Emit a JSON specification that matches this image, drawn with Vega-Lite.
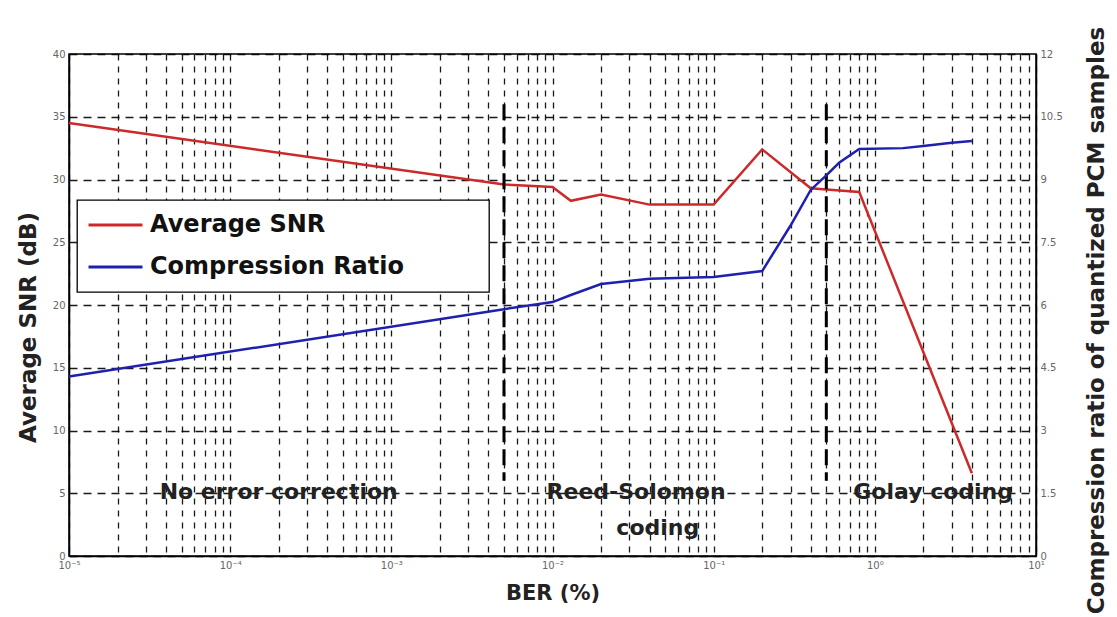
{
  "$schema": "https://vega.github.io/schema/vega-lite/v6.json",
  "width": 967,
  "height": 502,
  "autosize": {"type": "none"},
  "padding": {"left": 69, "top": 54, "right": 81, "bottom": 61},
  "background": "white",
  "config": {
    "view": {"stroke": "black", "strokeWidth": 1.5},
    "axis": {
      "labelFont": "DejaVu Sans",
      "labelFontSize": 10,
      "labelColor": "#666666",
      "titleFont": "DejaVu Sans",
      "titleFontWeight": "bold",
      "titleFontSize": 23,
      "titleColor": "#222222",
      "domainColor": "black",
      "domainWidth": 1.5,
      "ticks": false,
      "gridColor": "black",
      "gridOpacity": 0.9,
      "gridWidth": 1.3
    },
    "legend": {
      "strokeColor": "black",
      "strokeWidth": 1.3,
      "fillColor": "white",
      "padding": 10,
      "cornerRadius": 0
    }
  },
  "datasets": {
    "series": [
      {"ber": 0.00001, "series": "Average SNR", "value": 34.5},
      {"ber": 0.005, "series": "Average SNR", "value": 29.6},
      {"ber": 0.01, "series": "Average SNR", "value": 29.4},
      {"ber": 0.013, "series": "Average SNR", "value": 28.3},
      {"ber": 0.02, "series": "Average SNR", "value": 28.8},
      {"ber": 0.04, "series": "Average SNR", "value": 28.0},
      {"ber": 0.1, "series": "Average SNR", "value": 28.0},
      {"ber": 0.2, "series": "Average SNR", "value": 32.4},
      {"ber": 0.4, "series": "Average SNR", "value": 29.3},
      {"ber": 0.5, "series": "Average SNR", "value": 29.2},
      {"ber": 0.8, "series": "Average SNR", "value": 29.0},
      {"ber": 4, "series": "Average SNR", "value": 6.6},
      {"ber": 0.00001, "series": "Compression Ratio", "value": 4.29},
      {"ber": 0.005, "series": "Compression Ratio", "value": 5.9},
      {"ber": 0.01, "series": "Compression Ratio", "value": 6.07},
      {"ber": 0.013, "series": "Compression Ratio", "value": 6.24},
      {"ber": 0.02, "series": "Compression Ratio", "value": 6.5},
      {"ber": 0.04, "series": "Compression Ratio", "value": 6.63},
      {"ber": 0.1, "series": "Compression Ratio", "value": 6.67},
      {"ber": 0.2, "series": "Compression Ratio", "value": 6.81},
      {"ber": 0.3, "series": "Compression Ratio", "value": 7.9},
      {"ber": 0.4, "series": "Compression Ratio", "value": 8.75},
      {"ber": 0.5, "series": "Compression Ratio", "value": 9.1},
      {"ber": 0.6, "series": "Compression Ratio", "value": 9.4},
      {"ber": 0.8, "series": "Compression Ratio", "value": 9.73},
      {"ber": 1.5, "series": "Compression Ratio", "value": 9.75},
      {"ber": 2, "series": "Compression Ratio", "value": 9.8},
      {"ber": 3, "series": "Compression Ratio", "value": 9.88},
      {"ber": 4, "series": "Compression Ratio", "value": 9.92}
    ],
    "regions": [
      {"ber": 0.005, "value": 36, "value2": 6},
      {"ber": 0.5, "value": 36, "value2": 6}
    ],
    "notes": [
      {"ber": 0.0002, "value": 5.1, "label": "No error correction"},
      {"ber": 0.033, "value": 5.1, "label": "Reed-Solomon"},
      {"ber": 0.045, "value": 2.2, "label": "coding"},
      {"ber": 2.3, "value": 5.1, "label": "Golay coding"}
    ]
  },
  "encoding": {
    "x": {
      "field": "ber",
      "type": "quantitative",
      "scale": {"type": "log", "domain": [0.00001, 10], "nice": false},
      "axis": {
        "title": "BER (%)",
        "titleFontSize": 21,
        "titlePadding": 12,
        "values": [0.00001, 0.00002, 0.00003, 0.00004, 0.00005, 0.00006, 0.00007, 0.00008, 0.00009,
                   0.0001, 0.0002, 0.0003, 0.0004, 0.0005, 0.0006, 0.0007, 0.0008, 0.0009,
                   0.001, 0.002, 0.003, 0.004, 0.005, 0.006, 0.007, 0.008, 0.009,
                   0.01, 0.02, 0.03, 0.04, 0.05, 0.06, 0.07, 0.08, 0.09,
                   0.1, 0.2, 0.3, 0.4, 0.5, 0.6, 0.7, 0.8, 0.9,
                   1, 2, 3, 4, 5, 6, 7, 8, 9, 10],
        "labelExpr": "datum.value == 0.00001 ? '10⁻⁵' : datum.value == 0.0001 ? '10⁻⁴' : datum.value == 0.001 ? '10⁻³' : datum.value == 0.01 ? '10⁻²' : datum.value == 0.1 ? '10⁻¹' : datum.value == 1 ? '10⁰' : datum.value == 10 ? '10¹' : ''",
        "labelOverlap": false,
        "labelFlush": false,
        "labelBound": false,
        "labelPadding": 4,
        "grid": true,
        "gridDash": [6, 6]
      }
    }
  },
  "layer": [
    {
      "layer": [
        {
          "data": {"name": "series"},
          "transform": [{"filter": "datum.series == 'Average SNR'"}],
          "mark": {"type": "line", "strokeWidth": 2.5},
          "encoding": {
            "y": {
              "field": "value",
              "type": "quantitative",
              "scale": {"domain": [0, 40], "nice": false},
              "axis": {
                "orient": "left",
                "title": "Average SNR (dB)",
                "titleY": 273,
                "values": [0, 5, 10, 15, 20, 25, 30, 35, 40],
                "labelExpr": "toString(datum.value)",
                "labelPadding": 4,
                "titlePadding": 12,
                "grid": true,
                "gridDash": [8, 6]
              }
            },
            "color": {
              "field": "series",
              "type": "nominal",
              "scale": {"domain": ["Average SNR", "Compression Ratio"], "range": ["#cc2a2a", "#2020b0"]},
              "legend": {
                "title": "\u2800\u2800\u2800\u2800\u2800",
                "titleColor": "white",
                "titleOrient": "right",
                "titleFontSize": 20,
                "titlePadding": 0,
                "orient": "none",
                "legendX": 8,
                "legendY": 146,
                "direction": "vertical",
                "symbolType": "stroke",
                "symbolSize": 2916,
                "symbolStrokeWidth": 3,
                "clipHeight": 30,
                "labelFont": "DejaVu Sans",
                "labelFontWeight": "bold",
                "labelFontSize": 24,
                "labelColor": "#111111",
                "labelOffset": 6,
                "labelLimit": 400,
                "rowPadding": 12
              }
            }
          }
        },
        {
          "data": {"name": "regions"},
          "mark": {"type": "rule", "strokeWidth": 3, "strokeDash": [16, 7], "color": "black"},
          "encoding": {
            "y": {"field": "value", "type": "quantitative"},
            "y2": {"field": "value2"}
          }
        },
        {
          "data": {"name": "notes"},
          "mark": {"type": "text", "font": "DejaVu Sans", "fontWeight": "bold", "fontSize": 22, "color": "#222222", "align": "center", "baseline": "middle"},
          "encoding": {
            "y": {"field": "value", "type": "quantitative"},
            "text": {"field": "label", "type": "nominal"}
          }
        }
      ]
    },
    {
      "data": {"name": "series"},
      "transform": [{"filter": "datum.series == 'Compression Ratio'"}],
      "mark": {"type": "line", "strokeWidth": 2.5},
      "encoding": {
        "y": {
          "field": "value",
          "type": "quantitative",
          "scale": {"domain": [0, 12], "nice": false},
          "axis": {
            "orient": "right",
            "title": "Compression ratio of quantized PCM samples",
            "titleAngle": -90,
            "titleY": 266,
            "values": [0, 1.5, 3, 4.5, 6, 7.5, 9, 10.5, 12],
            "labelExpr": "toString(datum.value)",
            "labelPadding": 4,
            "titlePadding": 46,
            "grid": false
          }
        },
        "color": {
          "field": "series",
          "type": "nominal",
          "scale": {"domain": ["Average SNR", "Compression Ratio"], "range": ["#cc2a2a", "#2020b0"]}
        }
      }
    }
  ],
  "resolve": {"scale": {"y": "independent"}}
}
